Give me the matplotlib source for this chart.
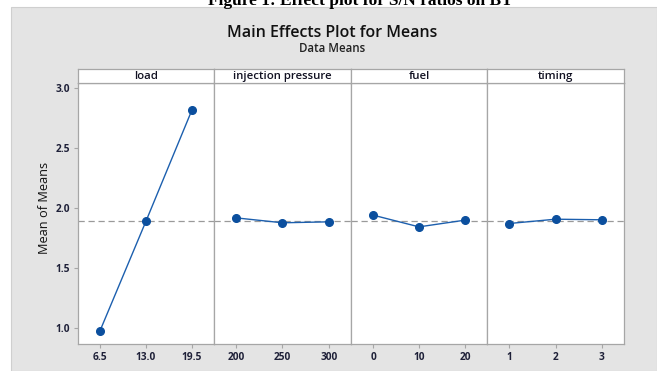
import matplotlib
matplotlib.use("Agg")
import matplotlib.pyplot as plt
from matplotlib.patches import Rectangle

plt.rcParams['font.family'] = ['Open Sans', 'DejaVu Sans']

factors = ['load', 'injection pressure', 'fuel', 'timing']
load_levels = ['6.5', '13.0', '19.5']
load_means = [0.978, 1.892, 2.819]
pressure_levels = ['200', '250', '300']
pressure_means = [1.919, 1.878, 1.886]
fuel_levels = ['0', '10', '20']
fuel_means = [1.942, 1.844, 1.900]
timing_levels = ['1', '2', '3']
timing_means = [1.872, 1.908, 1.903]
grand_mean = 1.889
y_ticks = [1.0, 1.5, 2.0, 2.5, 3.0]

levels = [load_levels, pressure_levels, fuel_levels, timing_levels]
means = [load_means, pressure_means, fuel_means, timing_means]

W, H = 657, 371
fig = plt.figure(figsize=(W / 100, H / 100), dpi=100, facecolor='white')


def px_rect(x0, y0, x1, y1):
    # pixel box (top-left origin) -> figure fraction box
    return [x0 / W, 1 - y1 / H, (x1 - x0) / W, (y1 - y0) / H]


# grey Minitab background, behind the axes
fig.patches.append(Rectangle((11 / W, 0), 1 - 11 / W, 1 - 7 / H,
                             transform=fig.transFigure, facecolor='#e4e4e4',
                             edgecolor='#cfcfcf', lw=0.8, zorder=-5))

# caption from the page, cut off at the top
fig.text(360 / W, 1 - 5 / H, 'Figure 1: Effect plot for S/N ratios on BT',
         family='Liberation Serif', weight='bold', fontsize=12.5,
         ha='center', va='baseline', zorder=5)

fig.text(332 / W, 1 - 33 / H, 'Main Effects Plot for Means', fontsize=11.5,
         weight='semibold', color='#111111', ha='center', va='center')
fig.text(332 / W, 1 - 48.5 / H, 'Data Means', fontsize=8.3,
         weight='semibold', color='#222222', ha='center', va='center')
fig.text(44 / W, 1 - 208 / H, 'Mean of Means', fontsize=9.2, rotation=90,
         color='#111111', ha='center', va='center')

edges = [78, 214, 351, 487, 624]
top, strip_bot, bottom = 69, 83, 344
frame_col = '#a6a6a6'
tick_col = '#1e2038'

for i in range(4):
    ax = fig.add_axes(px_rect(edges[i], strip_bot, edges[i + 1], bottom))
    x = range(len(levels[i]))
    ax.axhline(grand_mean, color='#9a9a9a', lw=0.9, ls=(0, (5, 3)), zorder=1)
    ax.plot(x, means[i], color='#1c5fae', lw=1.0, marker='o', ms=5.5,
            mfc='#0b4f9e', mec='#0b4f9e', zorder=3, clip_on=False)
    ax.set_xlim(-0.48, 2.48)
    ax.set_ylim(0.867, 3.044)
    ax.set_xticks(list(x))
    ax.set_xticklabels(levels[i], fontsize=7.3, weight='bold', color=tick_col)
    ax.tick_params(axis='x', length=3, color=frame_col, pad=3)
    if i == 0:
        ax.set_yticks(y_ticks)
        ax.set_yticklabels(['%.1f' % v for v in y_ticks], fontsize=7.3,
                           weight='bold', color=tick_col)
        ax.tick_params(axis='y', length=3, color=frame_col, pad=3)
    else:
        ax.set_yticks([])
    for s in ax.spines.values():
        s.set_color(frame_col)
        s.set_linewidth(0.9)

    sax = fig.add_axes(px_rect(edges[i], top, edges[i + 1], strip_bot))
    sax.set_xticks([])
    sax.set_yticks([])
    for s in sax.spines.values():
        s.set_color(frame_col)
        s.set_linewidth(0.9)
    sax.text(0.5, 0.48, factors[i], transform=sax.transAxes, ha='center',
             va='center', fontsize=8.2, weight='semibold', color='#111122')

fig.savefig('out.png', dpi=100, facecolor='white')
